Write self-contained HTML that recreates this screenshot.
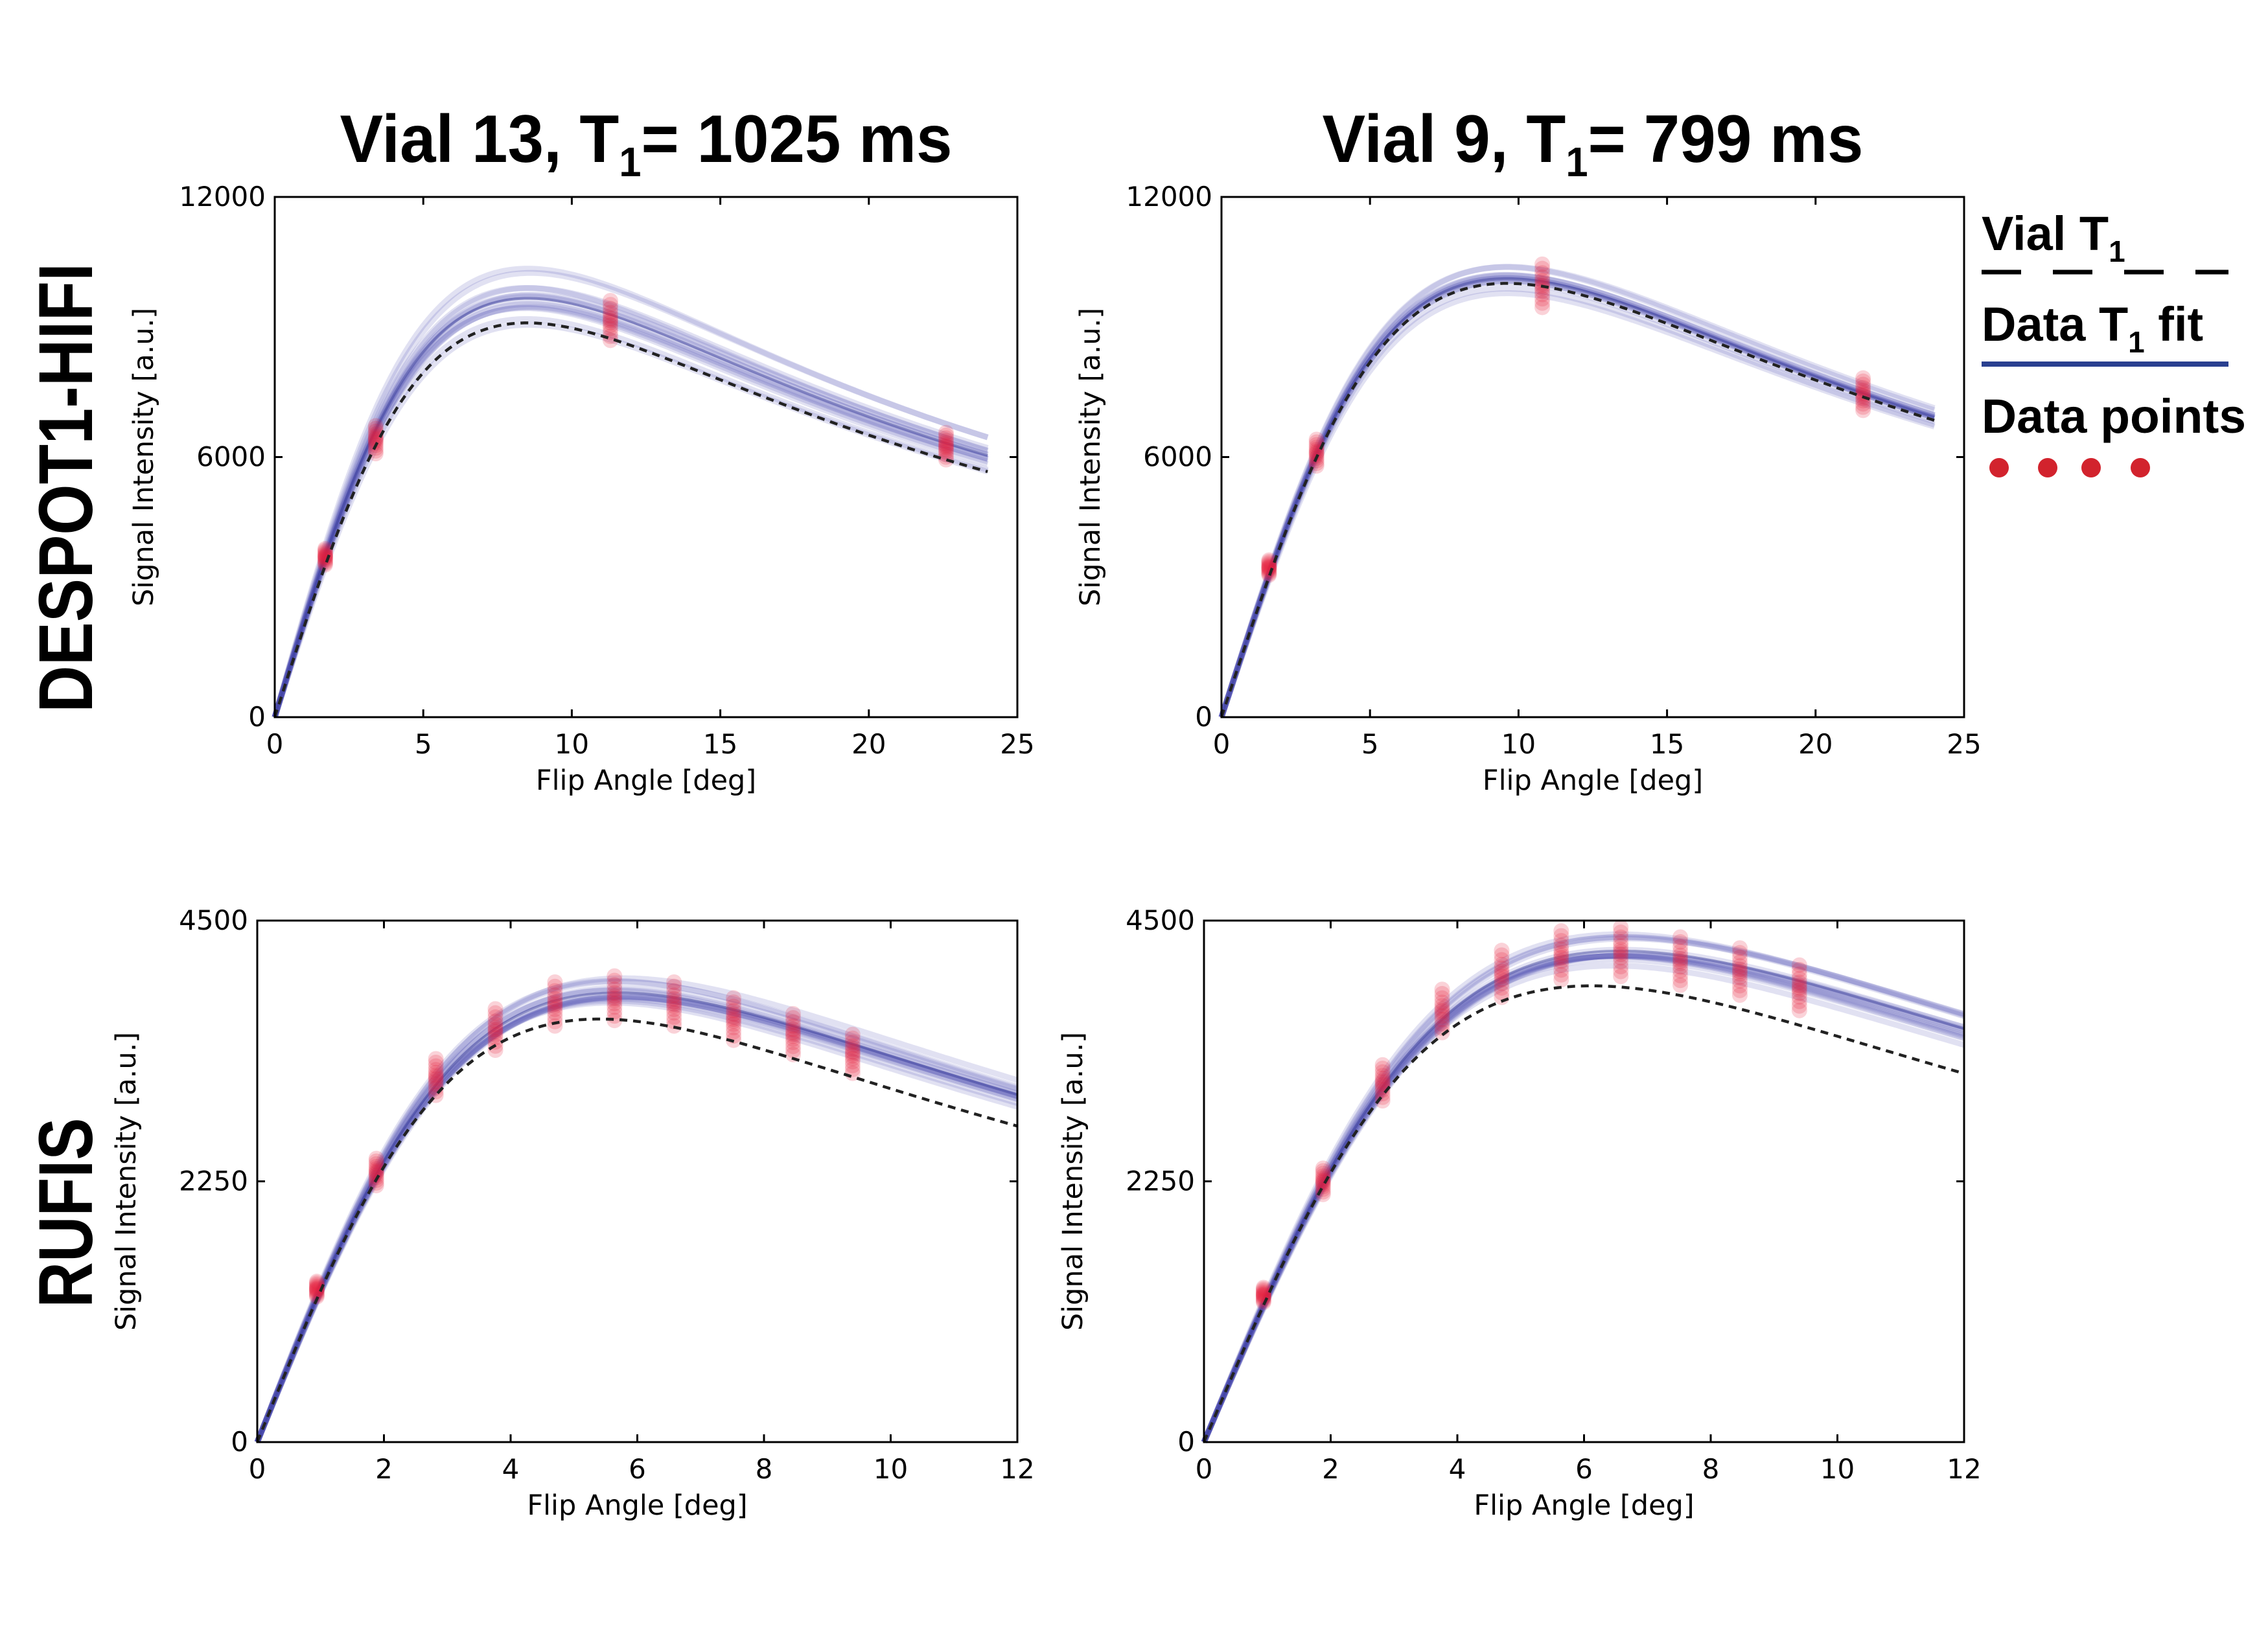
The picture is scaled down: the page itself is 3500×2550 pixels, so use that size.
<!DOCTYPE html>
<html><head><meta charset="utf-8"><style>
html,body{margin:0;padding:0;background:#fff;}
svg{display:block;}
</style></head><body>
<svg id="fig" width="3500" height="2550" viewBox="0 0 3500 2550" xmlns="http://www.w3.org/2000/svg">
<rect width="3500" height="2550" fill="#fff"/>
<g font-family="'Liberation Sans', sans-serif" font-weight="bold" fill="#000">
<text x="997" y="250" font-size="104" text-anchor="middle" textLength="945" lengthAdjust="spacingAndGlyphs">Vial 13, T<tspan font-size="64" dy="22">1</tspan><tspan dy="-22">= 1025 ms</tspan></text>
<text x="2458" y="250" font-size="104" text-anchor="middle" textLength="835" lengthAdjust="spacingAndGlyphs">Vial 9, T<tspan font-size="64" dy="22">1</tspan><tspan dy="-22">= 799 ms</tspan></text>
<text transform="translate(142,753) rotate(-90)" font-size="118" text-anchor="middle" textLength="694" lengthAdjust="spacingAndGlyphs">DESPOT1-HIFI</text>
<text transform="translate(142,1872) rotate(-90)" font-size="118" text-anchor="middle" textLength="293" lengthAdjust="spacingAndGlyphs">RUFIS</text>
<g>
<text x="3058" y="386" font-size="74">Vial T<tspan font-size="46" dy="18">1</tspan></text>
<line x1="3058" y1="420" x2="3439" y2="420" stroke="#000" stroke-width="7" stroke-dasharray="61 49"/>
<text x="3058" y="526" font-size="74">Data T<tspan font-size="46" dy="18">1</tspan><tspan dy="-18"> fit</tspan></text>
<line x1="3058" y1="562" x2="3439" y2="562" stroke="#2a4090" stroke-width="8"/>
<text x="3058" y="668" font-size="74" textLength="408" lengthAdjust="spacingAndGlyphs">Data points</text>
<circle cx="3085" cy="722" r="15" fill="#d2232d"/>
<circle cx="3160" cy="722" r="15" fill="#d2232d"/>
<circle cx="3227" cy="722" r="15" fill="#d2232d"/>
<circle cx="3303" cy="722" r="15" fill="#d2232d"/>
</g>
</g>
<g id="panels"></g>
</svg>
<script>
// ---- data ----
const TR_HIFI = 11.3;
const TR_RUFIS = 4.56;
const vialT1 = [1025, 799, 1025, 799];
const vialM0 = [122500, 119000, 77400, 73700];
// fit curves (bootstrap) per panel
const fitT1_tl = [1010,1030,1000,1020,1040,990,1015,1025,1005,1035,995,1020,1012,1028];
const fitM0_tl = [121000,124000,126000,127000,128000,129000,130000,131000,132000,134000,136000,139000,127500,129500];
const fitT1_tr = [795,805,790,810,800,798,802,808,792,806,796,804];
const fitM0_tr = [116000,118000,119000,120000,120500,121000,121500,122000,123000,124000,119500,120800];
const fitT1_bl = [880,900,920,940,960,910,930,895,925,945,915,935,905,950];
const fitM0_bl = [75500,76200,76800,77300,77800,78300,78800,79300,80000,81000,77000,78000,76500,79500];
const fitT1_br = [660,670,680,690,700,710,720,675,685,695,705,665,715,688];
const fitM0_br = [71500,72000,72500,73000,73500,74000,74500,75000,75500,76500,73200,74200,72800,73800];
// measured data points
const angles_tl = [1.7, 3.4, 11.3, 22.6];
const values_tl = [3700, 6400, 9150, 6250];
const angles_tr = [1.6, 3.2, 10.8, 21.6];
const values_tr = [3450, 6100, 9950, 7450];
const angles_bl = [0.94,1.88,2.82,3.76,4.7,5.64,6.58,7.52,8.46,9.4];
const values_bl = [1320,2330,3150,3560,3780,3830,3780,3650,3520,3350];
const angles_br = [0.94,1.88,2.82,3.76,4.7,5.64,6.58,7.52,8.46,9.4];
const values_br = [1270,2250,3100,3720,4040,4200,4230,4150,4060,3920];
const spread = [-0.05,-0.04,-0.03,-0.02,-0.012,-0.005,0,0.005,0.012,0.02,0.03,0.04,0.05];
const xTicks_hifi = [0,5,10,15,20,25];
const yTicks_hifi = [0,6000,12000];
const xTicks_rufis = [0,2,4,6,8,10,12];
const yTicks_rufis = [0,2250,4500];

const panels = [
 {name:'despot1-vial13', x0:424,x1:1570,y0:304,y1:1107,xmax:25,ymax:12000,xend:24,TR:TR_HIFI,vi:0,fT:fitT1_tl,fM:fitM0_tl,ax:angles_tl,av:values_tl,xt:xTicks_hifi,yt:yTicks_hifi},
 {name:'despot1-vial9', x0:1885,x1:3031,y0:304,y1:1107,xmax:25,ymax:12000,xend:24,TR:TR_HIFI,vi:1,fT:fitT1_tr,fM:fitM0_tr,ax:angles_tr,av:values_tr,xt:xTicks_hifi,yt:yTicks_hifi},
 {name:'rufis-vial13', x0:397,x1:1570,y0:1421,y1:2226,xmax:12,ymax:4500,xend:12,TR:TR_RUFIS,vi:2,fT:fitT1_bl,fM:fitM0_bl,ax:angles_bl,av:values_bl,xt:xTicks_rufis,yt:yTicks_rufis},
 {name:'rufis-vial9', x0:1858,x1:3031,y0:1421,y1:2226,xmax:12,ymax:4500,xend:12,TR:TR_RUFIS,vi:3,fT:fitT1_br,fM:fitM0_br,ax:angles_br,av:values_br,xt:xTicks_rufis,yt:yTicks_rufis}
];
const NS='http://www.w3.org/2000/svg';
function mk(tag, attrs, parent){const e=document.createElementNS(NS,tag);for(const k in attrs)e.setAttribute(k,attrs[k]);parent.appendChild(e);return e;}
function spgr(a, T1, M0, TR){const r=a*Math.PI/180, E=Math.exp(-TR/T1);return M0*Math.sin(r)*(1-E)/(1-E*Math.cos(r));}
const root=document.getElementById('panels');
panels.forEach(p=>{
 const sx=v=>p.x0+(v/p.xmax)*(p.x1-p.x0);
 const sy=v=>p.y1-(v/p.ymax)*(p.y1-p.y0);
 const g=mk('g',{},root);
 
 
 const curvePath=(T1,M0)=>{let d='';for(let i=0;i<=240;i++){const a=p.xend*i/240;d+=(i?'L':'M')+sx(a).toFixed(1)+','+sy(spgr(a,T1,M0,p.TR)).toFixed(1);}return d;};
 // fit curves
 for(let i=0;i<p.fT.length;i++){
  const c=mk('path',{d:curvePath(p.fT[i],p.fM[i]),fill:'none',stroke:'rgba(70,70,175,0.16)','stroke-width':9},g);
  
  
 }
 const mT=p.fT.reduce((a,b)=>a+b,0)/p.fT.length, mM=p.fM.reduce((a,b)=>a+b,0)/p.fM.length;
 const mc=mk('path',{d:curvePath(mT,mM),fill:'none',stroke:'rgba(50,55,150,0.45)','stroke-width':4},g);
 
 
 // data points
 for(let i=0;i<p.ax.length;i++){
  spread.forEach(s=>{
   const c=mk('circle',{cx:sx(p.ax[i]),cy:sy(p.av[i]*(1+s)),r:12,fill:'rgba(232,30,60,0.2)'},g);
   
   
  });
 }
 // vial dashed
 const dl=mk('path',{d:curvePath(vialT1[p.vi],vialM0[p.vi]),fill:'none',stroke:'#222','stroke-width':4.5,'stroke-dasharray':'12 9'},g);
 
 
 // frame
 const fr=mk('rect',{x:p.x0,y:p.y0,width:p.x1-p.x0,height:p.y1-p.y0,fill:'none',stroke:'#000','stroke-width':3},g);
 
 
 // ticks
 p.xt.forEach(t=>{
  const x=sx(t);
  mk('line',{x1:x,y1:p.y1,x2:x,y2:p.y1-12,stroke:'#000','stroke-width':3},g);
  mk('line',{x1:x,y1:p.y0,x2:x,y2:p.y0+12,stroke:'#000','stroke-width':3},g);
  const tl=mk('text',{x:x,y:p.y1+56,'font-size':42,'text-anchor':'middle','font-family':"'DejaVu Sans', sans-serif"},g);
  tl.textContent=t;
  
  
 });
 p.yt.forEach(t=>{
  const y=sy(t);
  mk('line',{x1:p.x0,y1:y,x2:p.x0+12,y2:y,stroke:'#000','stroke-width':3},g);
  mk('line',{x1:p.x1,y1:y,x2:p.x1-12,y2:y,stroke:'#000','stroke-width':3},g);
  const tl=mk('text',{x:p.x0-14,y:y+14,'font-size':42,'text-anchor':'end','font-family':"'DejaVu Sans', sans-serif"},g);
  tl.textContent=t;
  
  
 });
 const xl=mk('text',{x:(p.x0+p.x1)/2,y:p.y1+112,'font-size':43,'text-anchor':'middle','font-family':"'DejaVu Sans', sans-serif"},g);
 xl.textContent='Flip Angle [deg]';
 
 
 const yx=p.x0-188, yy=(p.y0+p.y1)/2;
 const yl=mk('text',{x:0,y:0,transform:`translate(${yx},${yy}) rotate(-90)`,'font-size':43,'text-anchor':'middle','font-family':"'DejaVu Sans', sans-serif"},g);
 yl.textContent='Signal Intensity [a.u.]';
 
 
});
</script>
</body></html>
